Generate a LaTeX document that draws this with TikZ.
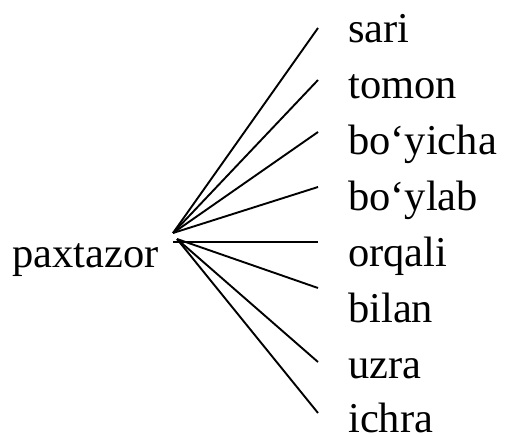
\documentclass[tikz,border=0pt]{standalone}
\usepackage{fontspec}
\setmainfont{Liberation Serif}
\begin{document}
\begin{tikzpicture}[x=1pt,y=-1pt,
  word/.style={anchor=base west,inner sep=0pt,font=\fontsize{42.5}{50}\selectfont},
  branch/.style={line width=1.9pt,line cap=butt}]
\useasboundingbox (0,0) rectangle (505,436);
\node[word] (root) at (12,267) {paxtazor};
\coordinate (apexA) at (173,233);
\coordinate (apexB) at (173,242);
\coordinate (apexC) at (177,239);
\node[word] (w1) at (348,43) {sari};
\node[word] (w2) at (348,98.5) {tomon};
\node[word] (w3) at (348,154) {bo‘yicha};
\node[word] (w4) at (348,210) {bo‘ylab};
\node[word] (w5) at (348,266.5) {orqali};
\node[word] (w6) at (348,322.5) {bilan};
\node[word] (w7) at (348,378) {uzra};
\node[word] (w8) at (348,432) {ichra};
\coordinate (e1) at (318,28);
\coordinate (e2) at (318,80);
\coordinate (e3) at (318,132);
\coordinate (e4) at (318,187);
\coordinate (e5) at (318,242);
\coordinate (e6) at (318,288);
\coordinate (e7) at (318,362);
\coordinate (e8) at (318,413);
\draw[branch] (apexA) -- (e1);
\draw[branch] (apexA) -- (e2);
\draw[branch] (apexA) -- (e3);
\draw[branch] (apexA) -- (e4);
\draw[branch] (apexB) -- (e5);
\draw[branch] (apexC) -- (e6);
\draw[branch] (apexC) -- (e7);
\draw[branch] (apexC) -- (e8);
\end{tikzpicture}
\end{document}
